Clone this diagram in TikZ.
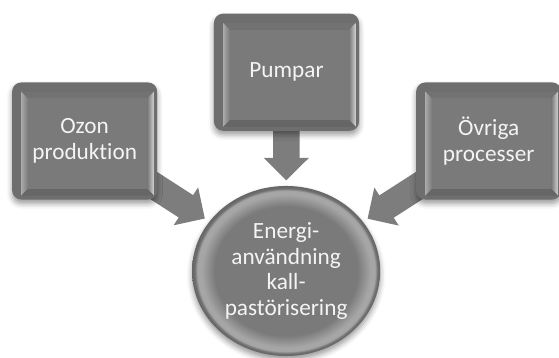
\documentclass[tikz,border=0pt]{standalone}
\usepackage{fontspec}
\setmainfont{Carlito}[Ligatures=NoCommon]
\usetikzlibrary{shapes.geometric,arrows.meta,shadows.blur}
\pgfdeclarelayer{background}
\pgfsetlayers{background,main}
\definecolor{facegray}{HTML}{7A7A7A}
\definecolor{framegray}{HTML}{6E6E6E}
\definecolor{toplgray}{HTML}{727272}
\definecolor{bevellight}{HTML}{A8A8A8}
\definecolor{bevelshine}{HTML}{D2D2D2}
\definecolor{beveldark}{HTML}{666666}
\definecolor{rimlight}{HTML}{A6A6A6}
\definecolor{arrowgray}{HTML}{7D7D7D}
\definecolor{labelwhite}{HTML}{F4F4F4}
\newcommand{\diagfont}{\fontsize{17.5}{19.5}\selectfont}
\pgfdeclareradialshading{rimshade}{\pgfpoint{0bp}{0bp}}{color(0bp)=(facegray); color(19bp)=(facegray); color(22.5bp)=(rimlight); color(23.6bp)=(rimlight); color(24.3bp)=(framegray); color(25bp)=(beveldark); color(50bp)=(beveldark)}
\tikzset{
    bevelbox/.style={rectangle, rounded corners=7pt, minimum width=3.84cm, minimum height=3.1cm, inner sep=0pt,
        fill=framegray, text=labelwhite, align=center, font=\diagfont,
        blur shadow={shadow xshift=0pt, shadow yshift=-3pt, shadow blur radius=4pt, shadow opacity=40},
        path picture={
            \path (path picture bounding box.south west) ++(7pt,3pt) coordinate (osw)
                  (path picture bounding box.north east) ++(-2.5pt,-7pt) coordinate (one);
            \path (osw) ++(5pt,5pt) coordinate (isw) (one) ++(-5pt,-5pt) coordinate (ine);
            \fill[sharp corners, left color=bevellight, right color=facegray] (osw) -- (osw |- one) -- (isw |- ine) -- (isw) -- cycle;
            \fill[sharp corners, toplgray] (osw |- one) -- (one) -- (ine) -- (isw |- ine) -- cycle;
            \fill[sharp corners, left color=facegray, right color=bevelshine] (one) -- (one |- osw) -- (ine |- isw) -- (ine) -- cycle;
            \fill[sharp corners, beveldark] (osw) -- (one |- osw) -- (ine |- isw) -- (isw) -- cycle;
            \fill[sharp corners, facegray] (isw) rectangle (ine);
        }},
    bigdisc/.style={ellipse, minimum width=4.98cm, minimum height=4.5cm, inner sep=0pt,
        shading=rimshade, text=labelwhite, align=center, font=\diagfont,
        blur shadow={shadow xshift=0pt, shadow yshift=-3pt, shadow blur radius=4pt, shadow opacity=40}},
    fatarrow/.style={draw=arrowgray, line width=20pt, -{Triangle[width=33pt,length=17pt]}, shorten >=4pt}
}
\begin{document}
\begin{tikzpicture}
    \useasboundingbox (0,0) rectangle (14.79,9.47);
    \node[bevelbox] (ozon) at (2.24,5.74) {Ozon\\produktion};
    \node[bevelbox] (pump) at (7.58,7.56) {Pumpar};
    \node[bevelbox] (ovriga) at (12.93,5.74) {Övriga\\processer};
    \node[bigdisc] (energy) at (7.57,2.30) {Energi-\\användning\\kall-\\pastörisering};
    \begin{pgfonlayer}{background}
        \draw[fatarrow] (ozon.center) -- (energy);
        \draw[fatarrow] (pump.center) -- (energy);
        \draw[fatarrow] (ovriga.center) -- (energy);
    \end{pgfonlayer}
\end{tikzpicture}
\end{document}
